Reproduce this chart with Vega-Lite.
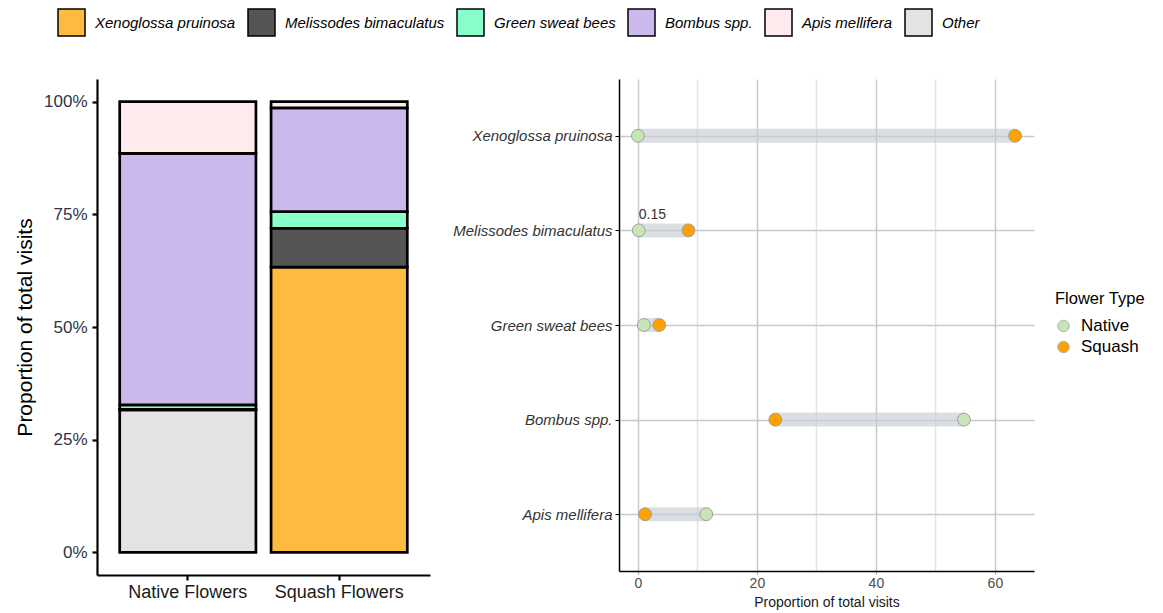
{
  "$schema": "https://vega.github.io/schema/vega-lite/v6.json",
  "description": "Bee visits to native and squash flowers: stacked proportions and a dumbbell comparison.",
  "background": "white",
  "padding": {"left": 14, "top": 8, "right": 5, "bottom": 2},
  "bounds": "flush",
  "spacing": 189,
  "config": {
    "font": "Liberation Sans",
    "view": {"stroke": null}
  },
  "datasets": {
    "bars": [
      {"flowers": "Native Flowers", "visitor": "Other", "visits": 31.6},
      {"flowers": "Native Flowers", "visitor": "Melissodes bimaculatus", "visits": 0.15},
      {"flowers": "Native Flowers", "visitor": "Green sweat bees", "visits": 1.0},
      {"flowers": "Native Flowers", "visitor": "Bombus spp.", "visits": 55.75},
      {"flowers": "Native Flowers", "visitor": "Apis mellifera", "visits": 11.5},
      {"flowers": "Squash Flowers", "visitor": "Xenoglossa pruinosa", "visits": 63.3},
      {"flowers": "Squash Flowers", "visitor": "Melissodes bimaculatus", "visits": 8.6},
      {"flowers": "Squash Flowers", "visitor": "Green sweat bees", "visits": 3.7},
      {"flowers": "Squash Flowers", "visitor": "Bombus spp.", "visits": 23.0},
      {"flowers": "Squash Flowers", "visitor": "Apis mellifera", "visits": 1.4}
    ],
    "dots": [
      {"species": "Xenoglossa pruinosa", "type": "Native", "value": 0},
      {"species": "Xenoglossa pruinosa", "type": "Squash", "value": 63.4},
      {"species": "Melissodes bimaculatus", "type": "Native", "value": 0.15, "label": "0.15"},
      {"species": "Melissodes bimaculatus", "type": "Squash", "value": 8.5},
      {"species": "Green sweat bees", "type": "Native", "value": 1.0},
      {"species": "Green sweat bees", "type": "Squash", "value": 3.6},
      {"species": "Bombus spp.", "type": "Native", "value": 54.8},
      {"species": "Bombus spp.", "type": "Squash", "value": 23.1},
      {"species": "Apis mellifera", "type": "Native", "value": 11.5},
      {"species": "Apis mellifera", "type": "Squash", "value": 1.2}
    ]
  },
  "resolve": {
    "scale": {"fill": "independent"},
    "legend": {"fill": "independent"}
  },
  "hconcat": [
    {
      "width": 333,
      "height": 496,
      "data": {"name": "bars"},
      "mark": {"type": "bar", "stroke": "black", "strokeWidth": 2.7},
      "encoding": {
        "x": {
          "field": "flowers",
          "type": "nominal",
          "sort": ["Native Flowers", "Squash Flowers"],
          "scale": {"paddingInner": 0.1, "paddingOuter": 0.15},
          "axis": {
            "title": null,
            "labelAngle": 0,
            "labelFontSize": 18,
            "labelColor": "#1a1a1a",
            "labelPadding": 3,
            "domainColor": "black",
            "domainWidth": 2.2,
            "tickColor": "black",
            "tickWidth": 2.2,
            "tickSize": 5
          }
        },
        "y": {
          "field": "visits",
          "type": "quantitative",
          "stack": "normalize",
          "scale": {"domain": [-0.05, 1.05], "nice": false, "zero": false},
          "axis": {
            "title": "Proportion of total visits",
            "titleFontSize": 21,
            "titleFontWeight": "normal",
            "titleColor": "black",
            "titlePadding": 8,
            "format": ".0%",
            "values": [0, 0.25, 0.5, 0.75, 1],
            "grid": false,
            "labelFontSize": 17,
            "labelColor": "#2e3548",
            "labelPadding": 5,
            "domainColor": "black",
            "domainWidth": 2.2,
            "tickColor": "black",
            "tickWidth": 2.2,
            "tickSize": 5
          }
        },
        "fill": {
          "field": "visitor",
          "type": "nominal",
          "scale": {
            "domain": ["Xenoglossa pruinosa", "Melissodes bimaculatus", "Green sweat bees", "Bombus spp.", "Apis mellifera", "Other"],
            "range": ["#ffbb3f", "#555555", "#88ffc8", "#cbb9ee", "#ffebee", "#e3e3e3"]
          },
          "legend": {
            "title": null,
            "orient": "none",
            "legendX": -40,
            "legendY": -71,
            "direction": "horizontal",
            "padding": 0,
            "symbolType": "square",
            "symbolSize": 729,
            "symbolStrokeColor": "black",
            "symbolStrokeWidth": 1.5,
            "labelFontSize": 15,
            "labelFontStyle": "italic",
            "labelColor": "black",
            "labelOffset": 9,
            "labelLimit": 0,
            "columnPadding": 9
          }
        },
        "order": {"field": "visitor", "sort": "descending"}
      }
    },
    {
      "width": 415,
      "height": 492,
      "data": {"name": "dots"},
      "layer": [
        {
          "mark": {"type": "rule", "strokeWidth": 14, "color": "#c7ccd4", "opacity": 0.65, "strokeCap": "butt"},
          "encoding": {
            "x": {"aggregate": "min", "field": "value", "type": "quantitative", "title": "Proportion of total visits"},
            "x2": {"aggregate": "max", "field": "value"},
            "y": {
              "field": "species",
              "type": "nominal",
              "sort": ["Xenoglossa pruinosa", "Melissodes bimaculatus", "Green sweat bees", "Bombus spp.", "Apis mellifera"],
              "title": null
            }
          }
        },
        {
          "mark": {"type": "point", "filled": true, "shape": "circle", "size": 165, "stroke": "#a0a0a0", "strokeWidth": 1, "opacity": 1},
          "encoding": {
            "x": {
              "field": "value",
              "type": "quantitative",
              "scale": {"domain": [-3.17, 66.57], "nice": false, "zero": false},
              "axis": {
                "title": "Proportion of total visits",
                "titleFontSize": 14,
                "titleFontWeight": "normal",
                "titleColor": "#1a1a1a",
                "titlePadding": 5,
                "values": [0, 10, 20, 30, 40, 50, 60],
                "labelExpr": "datum.value % 20 === 0 ? datum.label : ''",
                "labelFontSize": 14,
                "labelColor": "#4d4d4d",
                "labelPadding": 2,
                "grid": true,
                "gridColor": {"condition": {"test": "datum.value % 20 === 0", "value": "#c9c9c9"}, "value": "#e4e4e4"},
                "gridWidth": 1.5,
                "domainColor": "black",
                "domainWidth": 1.5,
                "tickColor": "#9a9a9a",
                "tickOpacity": {"condition": {"test": "datum.value % 20 === 0", "value": 1}, "value": 0},
                "tickSize": 3
              }
            },
            "y": {
              "field": "species",
              "type": "nominal",
              "sort": ["Xenoglossa pruinosa", "Melissodes bimaculatus", "Green sweat bees", "Bombus spp.", "Apis mellifera"],
              "scale": {"type": "point", "padding": 0.6},
              "axis": {
                "title": null,
                "labelFontSize": 15,
                "labelFontStyle": "italic",
                "labelColor": "#333333",
                "labelPadding": 3,
                "labelLimit": 0,
                "tickSize": 4,
                "tickColor": "black",
                "grid": true,
                "gridColor": "#c9c9c9",
                "gridWidth": 1.3,
                "domainColor": "black",
                "domainWidth": 1.5
              }
            },
            "fill": {
              "field": "type",
              "type": "nominal",
              "scale": {"domain": ["Native", "Squash"], "range": ["#c8e6b5", "#ffa200"]},
              "legend": {
                "title": "Flower Type",
                "titleFontSize": 16.5,
                "titleFontWeight": "normal",
                "titleColor": "black",
                "titlePadding": 10,
                "orient": "none",
                "legendX": 436,
                "legendY": 212,
                "padding": 0,
                "symbolType": "circle",
                "symbolSize": 133,
                "symbolStrokeColor": "#b0b0b0",
                "symbolStrokeWidth": 1,
                "labelFontSize": 17,
                "labelColor": "black",
                "labelOffset": 9,
                "rowPadding": 3
              }
            }
          }
        },
        {
          "transform": [{"filter": "datum.label != null"}],
          "mark": {"type": "text", "align": "left", "baseline": "alphabetic", "dy": -11, "fontSize": 14, "color": "#333333"},
          "encoding": {
            "x": {"field": "value", "type": "quantitative", "title": "Proportion of total visits"},
            "y": {
              "field": "species",
              "type": "nominal",
              "sort": ["Xenoglossa pruinosa", "Melissodes bimaculatus", "Green sweat bees", "Bombus spp.", "Apis mellifera"],
              "title": null
            },
            "text": {"field": "label"}
          }
        }
      ]
    }
  ]
}
